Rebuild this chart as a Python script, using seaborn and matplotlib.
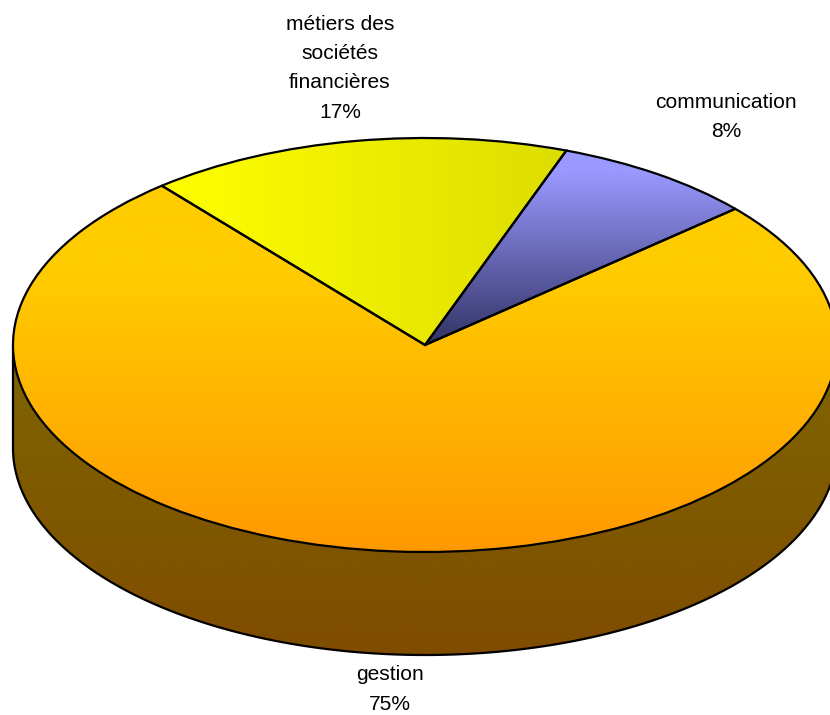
import numpy as np
import matplotlib
matplotlib.use("Agg")
import matplotlib.pyplot as plt
from matplotlib.patches import Polygon
import seaborn as sns

categories = ["gestion", "communication", "métiers des\nsociétés\nfinancières"]
shares = [75.4, 8.0, 16.6]
top_colors = [("#FFCC00", "#FF9900"), ("#9999FF", "#333366"), ("#FFFF00", "#DDDD00")]
side_colors = ("#7F6600", "#7F4C00")

sns.set_theme(style="white")
plt.rcParams["font.family"] = ["Liberation Sans", "DejaVu Sans"]

W, H = 830, 715
CX, CY, RX, RY, DEPTH = 425, 345, 412, 207, 103

fig = plt.figure(figsize=(W / 100, H / 100), dpi=100, facecolor="white")
ax = fig.add_axes([0, 0, 1, 1])

xlim = ((0 - CX) / RX, (W - CX) / RX)
ylim = ((CY - H) / RY, CY / RY)
px = lambda x, y: ((x - CX) / RX, (CY - y) / RY)
d = DEPTH / RY
LW = 1.6


def gradient(colors, extent, clip, horizontal=False, z=1, lead=0.0):
    cmap = sns.blend_palette(list(colors), n_colors=256, as_cmap=True)
    ramp = np.clip(np.linspace(-lead, 1, 256), 0, 1)
    data = ramp[None, :] if horizontal else ramp[:, None]
    im = ax.imshow(data, cmap=cmap, vmin=0, vmax=1, extent=extent, origin="upper",
                   aspect="auto", zorder=z, interpolation="bilinear")
    im.set_clip_path(clip)
    return im


# side wall
t = np.linspace(np.pi, 2 * np.pi, 300)
outline = np.column_stack([np.r_[-1, np.cos(t), 1], np.r_[0, np.sin(t) - d, 0]])
wall = Polygon(outline, closed=True, facecolor="none", edgecolor="black", lw=LW, zorder=2)
ax.add_patch(wall)
gradient(side_colors, (-1, 1, -1 - d, 0), wall, z=1)

# top face
wedges, _ = ax.pie(shares, startangle=129.7, colors=["none"] * 3, radius=1,
                   wedgeprops=dict(edgecolor="black", linewidth=LW, zorder=4))
for i, (w, c) in enumerate(zip(wedges, top_colors)):
    w.set_zorder(4)
    if i == 0:
        gradient(c, (-1, 1, -1, 1), w, z=3, lead=0.47)
    elif i == 1:
        gradient(c, (-1, 1, 0, 0.94), w, z=3, lead=0.12)
    else:
        gradient(c, (-0.64, 0.34, 0, 1), w, horizontal=True, z=3)

# labels, one text per line
label_anchor = [(390, 675), (726, 102), (340, 24)]
PITCH = 29.5
for name, val, (lx, ly) in zip(categories, shares, label_anchor):
    for k, line in enumerate(name.split("\n") + [f"{round(val)}%"]):
        x, y = px(lx, ly + k * PITCH)
        ax.text(x, y, line, ha="center", va="center", fontsize=15.1,
                color="black", zorder=6, clip_on=False)

ax.set_aspect("auto")
ax.set_xlim(*xlim)
ax.set_ylim(*ylim)
ax.axis("off")
fig.savefig("out.png", dpi=100, facecolor="white")
